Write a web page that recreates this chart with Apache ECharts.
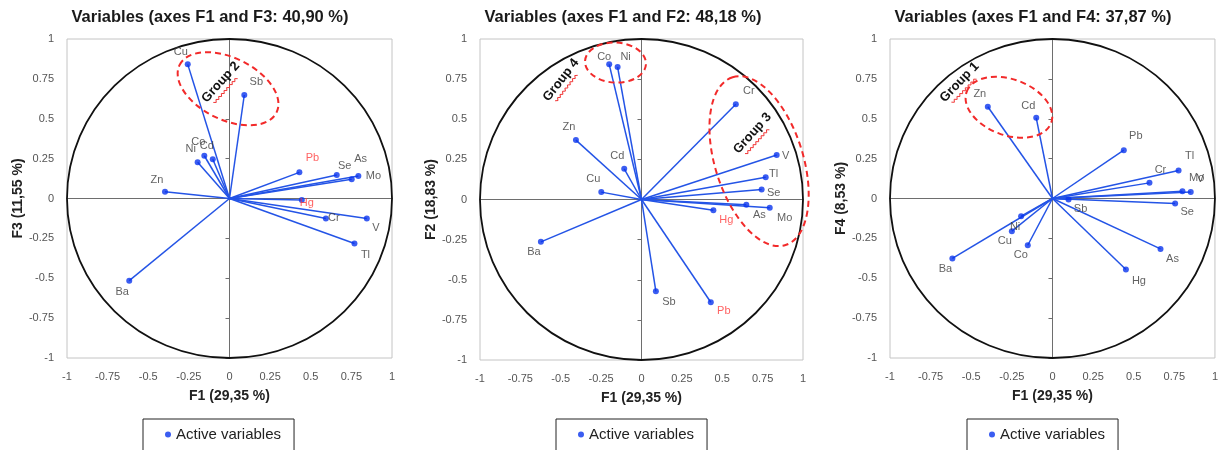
<!DOCTYPE html>
<html><head><meta charset="utf-8">
<script src="https://cdn.jsdelivr.net/npm/echarts@6/dist/echarts.min.js"></script>
<style>html,body{margin:0;padding:0;background:#fff}#c{width:1221px;height:450px}</style>
</head><body><div id="c"></div>
<script>
// ---- data ----
const names = ['Ba','Zn','Cu','Ni','Co','Cd','Sb','Pb','Hg','Cr','V','Tl','Se','As','Mo'];
const f1 = [-0.617,-0.397,-0.257,-0.196,-0.155,-0.103,0.091,0.430,0.445,0.593,0.845,0.769,0.660,0.752,0.793]; // panel F1/F3 x
const f3 = [-0.515,0.043,0.841,0.227,0.268,0.246,0.649,0.164,-0.010,-0.125,-0.125,-0.282,0.147,0.120,0.141];
const f1b = [-0.623,-0.406,-0.249,-0.148,-0.200,-0.107,0.089,0.429,0.445,0.584,0.837,0.769,0.744,0.649,0.794]; // panel F1/F2 x
const f2 = [-0.264,0.370,0.046,0.825,0.842,0.191,-0.572,-0.640,-0.067,0.593,0.277,0.139,0.062,-0.033,-0.052];
const f1c = [-0.616,-0.398,-0.250,-0.193,-0.152,-0.100,0.099,0.439,0.452,0.597,0.800,0.776,0.755,0.665,0.851]; // panel F1/F4 x
const f4 = [-0.376,0.575,-0.205,-0.111,-0.293,0.506,-0.006,0.303,-0.445,0.098,0.046,0.176,-0.031,-0.316,0.040];
const titles = ['Variables (axes F1 and F3: 40,90 %)','Variables (axes F1 and F2: 48,18 %)','Variables (axes F1 and F4: 37,87 %)'];
const xNames = ['F1 (29,35 %)','F1 (29,35 %)','F1 (29,35 %)'];
const yNames = ['F3 (11,55 %)','F2 (18,83 %)','F4 (8,53 %)'];
const redLabels = [['Pb','Hg'],['Hg','Pb'],[]];
const groupLabels = [['Group 2'],['Group 4','Group 3'],['Group 1']];
// ---- layout (label offsets in px, annotations) ----
const labelOffsets = [
  [[-7,11],[-8,-12],[-7,-12],[-7,-13],[-6,-14],[-6,-13],[12,-13],[13,-14],[5,3],[8,0],[9,10],[11,11],[8,-9],[9,-20],[15,0]],
  [[-7,10],[-7,-13],[-8,-13],[8,-10],[-5,-7],[-7,-13],[13,11],[13,9],[13,10],[13,-13],[9,1],[8,-3],[12,3],[13,10],[15,10]],
  [[-7,10],[-8,-13],[-7,10],[-6,11],[-7,10],[-8,-12],[12,10],[12,-14],[13,11],[11,-13],[18,-12],[11,-14],[12,9],[12,10],[6,-14]]
];
// ellipses: [cx, cy, rxPx, ryPx, angleDeg]
const ellipses = [
  [[-0.009,0.688,54,31,-26]],
  [[-0.161,0.853,30.5,20,-3],[0.728,0.239,88,44,-72.5]],
  [[-0.268,0.572,45,28,-20]]
];
// group text: [x, y, angleDeg]
const groupPos = [
  [[-0.054,0.729,48]],
  [[-0.498,0.744,52],[0.687,0.412,48]],
  [[-0.572,0.729,46]]
];
const grids = [
  {left:67, top:39, width:325, height:319},
  {left:480, top:39, width:323, height:321},
  {left:890, top:39, width:325, height:319}
];
const titleX = [210, 623, 1033];
const legendX = [143, 556, 967];

const xs = [f1, f1b, f1c], ys = [f3, f2, f4];
const FONT = 'Liberation Sans';
const option = {
  animation:false, backgroundColor:'#fff',
  textStyle:{fontFamily:FONT},
  title: titles.map((t,i)=>({text:t, left:titleX[i], top:9, textAlign:'center', padding:0,
    textStyle:{fontSize:16.5, fontWeight:'bold', color:'#1a1a1a', fontFamily:FONT}})),
  legend: legendX.map((x,i)=>({data:['Active variables'], left:x, top:419, orient:'horizontal',
    selectedMode:false, icon:'circle', itemWidth:6, itemHeight:6, borderColor:'#222', borderWidth:1,
    padding:[8,13,10,22], textStyle:{fontSize:15, color:'#222', fontFamily:FONT}})),
  grid: grids.map(g=>Object.assign({show:true, borderColor:'#c4c4c4', borderWidth:1, backgroundColor:'transparent'}, g)),
  xAxis: [], yAxis: [], series: []
};
for (let i=0;i<3;i++){
  option.xAxis.push({gridIndex:i, type:'value', min:-1, max:1, interval:0.25, position:'bottom',
    axisLine:{show:false, onZero:false}, axisTick:{show:false}, splitLine:{show:false},
    axisLabel:{fontSize:11, color:'#555', margin:13},
    name:xNames[i], nameLocation:'middle', nameGap:31, nameTextStyle:{fontSize:14, fontWeight:'bold', color:'#222'}});
  option.xAxis.push({gridIndex:i, type:'value', min:-1, max:1, interval:0.25, position:'bottom',
    axisLine:{show:true, onZero:true, lineStyle:{color:'#6e6e6e', width:1}}, axisTick:{show:false},
    axisLabel:{show:false}, splitLine:{show:false}});
  option.yAxis.push({gridIndex:i, type:'value', min:-1, max:1, interval:0.25, position:'left',
    axisLine:{show:false, onZero:false}, axisTick:{show:false}, splitLine:{show:false},
    axisLabel:{fontSize:11, color:'#555', margin:13},
    name:yNames[i], nameLocation:'middle', nameGap:42, nameTextStyle:{fontSize:14, fontWeight:'bold', color:'#222'}});
  option.yAxis.push({gridIndex:i, type:'value', min:-1, max:1, interval:0.25, position:'left',
    axisLine:{show:true, onZero:true, lineStyle:{color:'#6e6e6e', width:1}},
    axisTick:{show:true, length:4, lineStyle:{color:'#6e6e6e'}},
    axisLabel:{show:false}, splitLine:{show:false}});
  const xi = 2*i, yi = 2*i;
  // correlation circle
  option.series.push({type:'custom', xAxisIndex:xi, yAxisIndex:yi, silent:true, z:1, data:[[0,0]],
    renderItem:(p,api)=>{const c=api.coord([0,0]); const s=api.size([1,1]);
      return {type:'ellipse', shape:{cx:c[0], cy:c[1], rx:s[0], ry:s[1]}, style:{fill:'none', stroke:'#111', lineWidth:1.8}};}});
  // vectors
  const pts = names.map((n,k)=>[xs[i][k], ys[i][k]]);
  option.series.push({type:'custom', xAxisIndex:xi, yAxisIndex:yi, silent:true, z:2, data:pts,
    renderItem:(p,api)=>{const o=api.coord([0,0]); const e=api.coord([api.value(0),api.value(1)]);
      return {type:'line', shape:{x1:o[0],y1:o[1],x2:e[0],y2:e[1]}, style:{stroke:'#2454e6', lineWidth:1.5}};}});
  // points + labels
  option.series.push({type:'scatter', name:'Active variables', xAxisIndex:xi, yAxisIndex:yi, z:3,
    symbol:'circle', symbolSize:6, itemStyle:{color:'#0a34ee'},
    label:{show:true, position:'inside', formatter:'{b}', fontSize:11, color:'#3a3a3a'},
    data: names.map((n,k)=>({name:n, value:[xs[i][k], ys[i][k]],
      label:{offset:labelOffsets[i][k], color: redLabels[i].indexOf(n)>=0 ? '#ff3a3a' : '#3a3a3a'}}))});
  // group ellipses
  option.series.push({type:'custom', xAxisIndex:xi, yAxisIndex:yi, silent:true, z:4,
    data: ellipses[i].map(e=>[e[0],e[1]]),
    renderItem:(p,api)=>{const e=ellipses[i][p.dataIndex]; const c=api.coord([e[0],e[1]]);
      return {type:'ellipse', x:c[0], y:c[1], rotation:e[4]*Math.PI/180, shape:{cx:0,cy:0,rx:e[2],ry:e[3]},
        style:{fill:'none', stroke:'#f22a2a', lineWidth:2, lineDash:[6,4]}};}});
  // group labels
  option.series.push({type:'custom', xAxisIndex:xi, yAxisIndex:yi, silent:true, z:5,
    data: groupPos[i].map(g=>[g[0],g[1]]),
    renderItem:(p,api)=>{const g=groupPos[i][p.dataIndex]; const c=api.coord([g[0],g[1]]);
      const zig=[]; for(let t=0;t<=17;t++){zig.push([-20+t*2, 9+(t%2?1.2:-1.0)]);}
      return {type:'group', x:c[0], y:c[1], rotation:g[2]*Math.PI/180, children:[
        {type:'text', style:{text:groupLabels[i][p.dataIndex], x:0, y:0, align:'center', verticalAlign:'middle',
          font:'bold 13px "Liberation Sans"', fill:'#111'}},
        {type:'polyline', shape:{points:zig}, style:{stroke:'#f03030', lineWidth:0.9, fill:'none'}}
      ]};}});
}
const chart = echarts.init(document.getElementById('c'), null, {renderer:'canvas'});
chart.setOption(option);
</script></body></html>
